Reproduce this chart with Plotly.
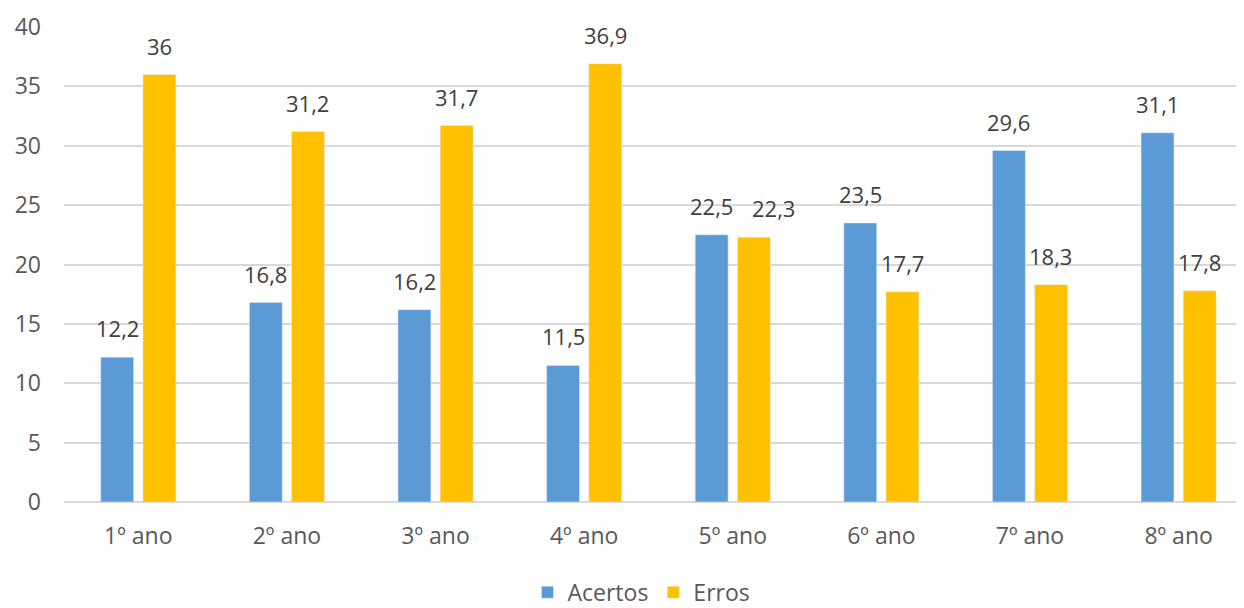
import plotly.graph_objects as go

categories = ["1º ano", "2º ano", "3º ano", "4º ano", "5º ano", "6º ano", "7º ano", "8º ano"]
acertos = [12.2, 16.8, 16.2, 11.5, 22.5, 23.5, 29.6, 31.1]
erros = [36, 31.2, 31.7, 36.9, 22.3, 17.7, 18.3, 17.8]
y_ticks = [0, 5, 10, 15, 20, 25, 30, 35, 40]

# extra horizontal nudge (px) of a data label, as in the original chart
label_nudge = {("Erros", "5º ano"): 20}

def fmt(v):
    return f"{v:g}".replace(".", ",")

FONT = "Open Sans"
SIZE = 23
fig = go.Figure()
fig.add_trace(go.Bar(name="Acertos", x=categories, y=acertos, marker_color="#5B9BD5"))
fig.add_trace(go.Bar(name="Erros", x=categories, y=erros, marker_color="#FFC000"))

annotations = []
for name, series, shift in (("Acertos", acertos, -21), ("Erros", erros, 21)):
    for c, v in zip(categories, series):
        annotations.append(dict(x=c, y=v, text=fmt(v), showarrow=False,
                                xshift=shift + label_nudge.get((name, c), 0),
                                yanchor="bottom", yshift=12,
                                font=dict(family=FONT, size=22, color="#404040")))

fig.update_layout(
    width=1236, height=600,
    margin=dict(l=56, r=0, t=19, b=106, autoexpand=False),
    paper_bgcolor="white", plot_bgcolor="white",
    barmode="group", bargap=0.432, bargroupgap=0.22,
    font=dict(family=FONT, size=SIZE, color="#595959"),
    annotations=annotations,
    legend=dict(orientation="h", x=0.4894, xanchor="center", y=-0.19, yanchor="middle",
                font=dict(family=FONT, size=SIZE, color="#595959")),
    xaxis=dict(range=[-0.5, 7.44], showgrid=False, showline=False, ticks="", automargin=False,
               tickfont=dict(family=FONT, size=SIZE, color="#595959"), ticklabelstandoff=18),
    yaxis=dict(range=[0, 40], tickvals=y_ticks, showgrid=True, gridcolor="#D9D9D9", gridwidth=2,
               zeroline=True, zerolinecolor="#D9D9D9", zerolinewidth=2, showline=False, ticks="",
               automargin=False,
               tickfont=dict(family=FONT, size=SIZE, color="#595959"), ticklabelstandoff=22),
)

fig.write_html("out.html")
